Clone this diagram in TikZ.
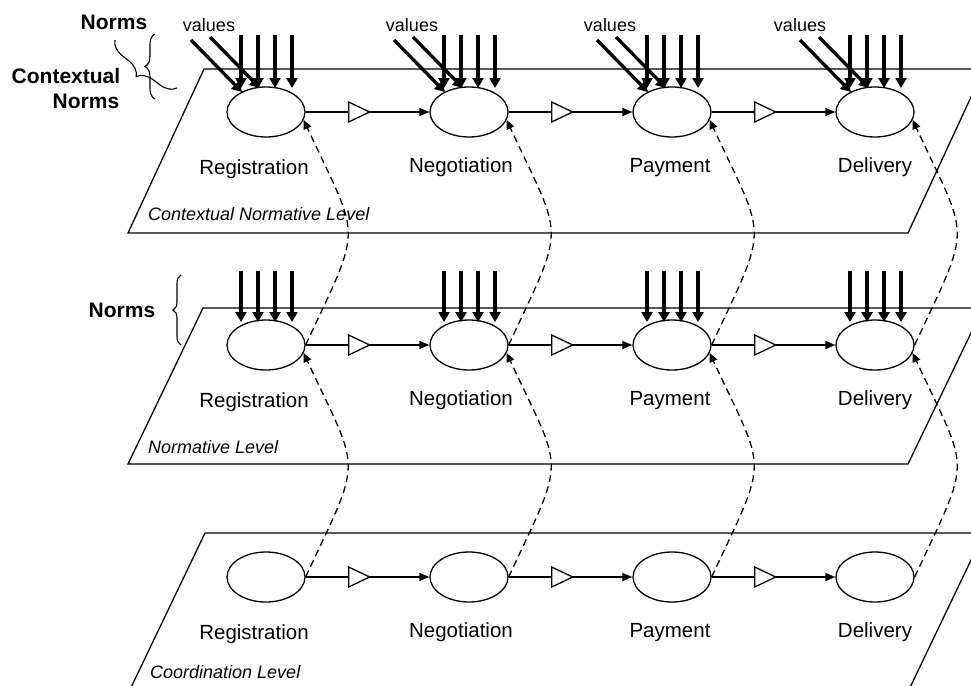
\documentclass[tikz,border=0pt]{standalone}
\usepackage{fontspec}
\setmainfont{Liberation Sans}
\usetikzlibrary{arrows.meta,calc,shapes.geometric,decorations.pathreplacing}

\begin{document}
\begin{tikzpicture}[x=1pt,y=-1pt,
  plane/.style={line width=1.3pt},
  activity/.style={ellipse,draw,line width=1.3pt,minimum width=78pt,minimum height=50pt,inner sep=0pt},
  actlabel/.style={font=\fontsize{20.5}{24}\selectfont,anchor=base,inner sep=0pt},
  levellabel/.style={font=\fontsize{18}{22}\selectfont\itshape,anchor=base west,inner sep=0pt},
  flow/.style={line width=1.3pt,-{Triangle[length=10pt,width=8pt]}},
  gate/.style={line width=1.3pt,fill=white},
  normarrow/.style={line width=3.3pt,-{Triangle[length=10pt,width=11pt]}},
  link/.style={line width=1.3pt,dash pattern=on 7pt off 4.5pt,-{Triangle[length=9pt,width=8pt]}},
  valtext/.style={font=\fontsize{18}{22}\selectfont,inner sep=0pt},
  normtext/.style={font=\bfseries\fontsize{21}{25}\selectfont,anchor=base,inner sep=0pt},
  bracket/.style={decorate,line width=1.1pt}]

\useasboundingbox (0,0) rectangle (971,685);
\clip (0,0) rectangle (971,685);

% the three levels
\draw[plane] (204,69) -- (984,69) -- (908,233) -- (128,233) -- cycle;
\draw[plane] (203,308) -- (983,308) -- (908,464) -- (128,464) -- cycle;
\draw[plane] (205,533) -- (984,533) -- (904,700) -- (125,700) -- cycle;

\node[levellabel] (lc) at (148,220) {Contextual Normative Level};
\node[levellabel] (lm) at (148,453) {Normative Level};
\node[levellabel] (lk) at (150,678) {Coordination Level};

% activities
\foreach \n/\x in {1/266,2/469,3/672,4/875} {
  \node[activity] (c\n) at (\x,112) {};
  \node[activity] (m\n) at (\x,345) {};
  \node[activity] (k\n) at (\x,577) {};
}

\foreach \n/\x/\t/\d in {1/254/Registration/62,2/461/Negotiation/60,3/670/Payment/60,4/875/Delivery/60} {
  \node[actlabel] (cl\n) at (\x,112+\d) {\t};
  \node[actlabel] (ml\n) at (\x,345+\d) {\t};
  \node[actlabel] (kl\n) at (\x,577+\d) {\t};
}

% control flow with gates
\foreach \r in {c,m,k} {
  \foreach \a/\b in {1/2,2/3,3/4} {
    \draw[flow] (\r\a.east) -- (\r\b.west);
    \draw[gate] ($(\r\a.east)+(43,-10)$) -- ++(21,10) -- ++(-21,10) -- cycle;
  }
}

% norms acting on the activities
\foreach \n in {1,...,4} {
  \foreach \dx in {-25,-8,9,26} {
    \draw[normarrow] ($(c\n)+(\dx,-77)$) -- ($(c\n)+(\dx,-24)$);
    \draw[normarrow] ($(m\n)+(\dx,-74)$) -- ($(m\n)+(\dx,-23)$);
  }
  \draw[normarrow] ($(c\n)+(-75,-72)$) -- ($(c\n)+(-24,-20)$);
  \draw[normarrow] ($(c\n)+(-56,-75)$) -- ($(c\n)+(-6,-24)$);
}

\foreach \n/\x in {1/209,2/412,3/610,4/800}
  \node[valtext] (v\n) at (\x,25) {values};

% links between levels
\foreach \n in {1,...,4} {
  \draw[link] (m\n.east) .. controls +(-65:136) and +(65:136) .. (c\n.-12);
  \draw[link] (k\n.east) .. controls +(-65:136) and +(65:136) .. (m\n.-12);
}

% norm labels and braces
\node[normtext] (nt) at (114,30) {Norms};
\node[normtext] (ctx) at (66,83) {Contextual};
\node[normtext] (ctn) at (86,108) {Norms};
\node[normtext] (nm) at (122,317) {Norms};

\draw[bracket,decoration={brace,amplitude=10pt}] (155,99) -- (155,34);
\draw[bracket,decoration={brace,amplitude=16pt}] (177,88) -- (115,40);
\draw[bracket,decoration={brace,amplitude=8pt}] (181,345) -- (181,275);

\end{tikzpicture}
\end{document}
